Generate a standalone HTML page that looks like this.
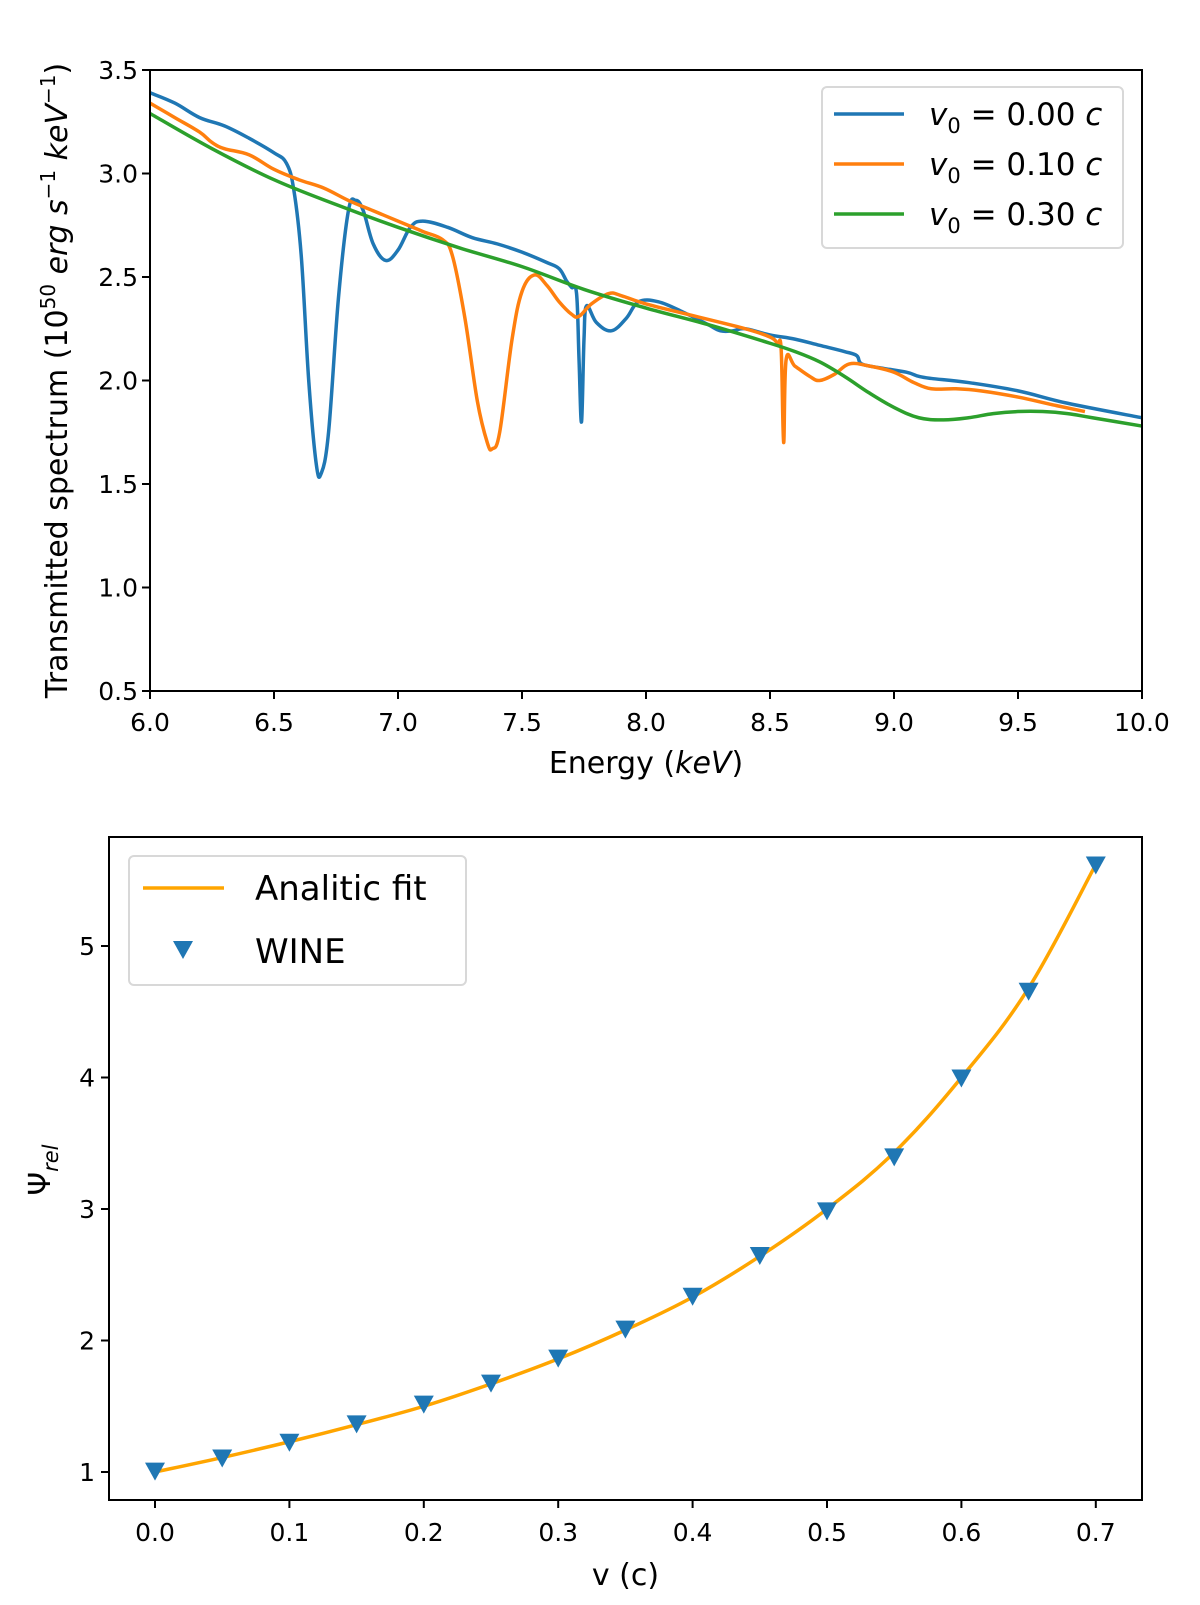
<!DOCTYPE html>
<html><head><meta charset="utf-8"><style>
body{margin:0;background:#fff}
svg{display:block;font-family:"DejaVu Sans","Liberation Sans",sans-serif}
</style></head><body>
<svg id="svg" width="1200" height="1605" viewBox="0 0 1200 1605" xmlns="http://www.w3.org/2000/svg">
<g id="top"></g>
<g id="bot"></g>
</svg>
<script>
// ---------- top chart data ----------
const blueE=[6.0,6.1,6.2,6.3,6.4,6.5,6.55,6.58,6.61,6.64,6.67,6.69,6.72,6.76,6.8,6.83,6.86,6.9,6.95,7.0,7.05,7.1,7.2,7.3,7.4,7.5,7.6,7.65,7.68,7.7,7.72,7.73,7.74,7.75,7.76,7.8,7.86,7.92,7.97,8.05,8.15,8.25,8.3,8.35,8.4,8.5,8.6,8.7,8.8,8.85,8.87,8.95,9.05,9.1,9.15,9.3,9.5,9.7,10.0];
const blueF=[3.39,3.34,3.27,3.23,3.17,3.10,3.05,2.92,2.6,2.0,1.6,1.55,1.75,2.4,2.82,2.87,2.82,2.66,2.58,2.63,2.74,2.77,2.74,2.69,2.66,2.62,2.57,2.54,2.48,2.45,2.42,2.1,1.8,2.2,2.36,2.28,2.24,2.3,2.38,2.38,2.33,2.27,2.24,2.24,2.25,2.22,2.2,2.17,2.14,2.12,2.08,2.06,2.04,2.02,2.01,1.99,1.95,1.89,1.82];
const orangeE=[6.0,6.1,6.2,6.25,6.3,6.4,6.5,6.6,6.7,6.8,6.9,7.0,7.1,7.18,7.22,7.27,7.32,7.36,7.38,7.41,7.46,7.5,7.55,7.6,7.65,7.7,7.73,7.78,7.85,7.9,8.0,8.2,8.4,8.5,8.53,8.545,8.555,8.565,8.6,8.66,8.7,8.76,8.82,8.9,9.0,9.08,9.15,9.25,9.35,9.5,9.65,9.77];
const orangeF=[3.34,3.27,3.2,3.15,3.12,3.09,3.02,2.97,2.93,2.87,2.82,2.77,2.72,2.68,2.6,2.3,1.9,1.70,1.67,1.75,2.2,2.43,2.51,2.46,2.38,2.32,2.31,2.37,2.42,2.41,2.37,2.31,2.25,2.21,2.18,2.15,1.7,2.1,2.07,2.02,2.0,2.03,2.08,2.07,2.04,1.99,1.96,1.96,1.95,1.92,1.88,1.85];
const greenE=[6.0,6.25,6.5,6.75,7.0,7.25,7.5,7.75,8.0,8.25,8.5,8.6,8.7,8.8,8.9,9.0,9.1,9.2,9.3,9.4,9.5,9.6,9.7,9.8,10.0];
const greenF=[3.29,3.12,2.97,2.85,2.74,2.64,2.55,2.44,2.35,2.27,2.18,2.14,2.09,2.02,1.94,1.87,1.82,1.81,1.82,1.84,1.85,1.85,1.84,1.82,1.78];
const topXTicks=[6.0,6.5,7.0,7.5,8.0,8.5,9.0,9.5,10.0];
const topYTicks=[0.5,1.0,1.5,2.0,2.5,3.0,3.5];
// ---------- bottom chart data ----------
const velocities=[0,0.05,0.1,0.15,0.2,0.25,0.3,0.35,0.4,0.45,0.5,0.55,0.6,0.65,0.7];
const wineValues=[1.01,1.11,1.23,1.37,1.52,1.68,1.87,2.09,2.34,2.65,2.99,3.40,4.0,4.66,5.62];
const fitValues=[1.0,1.11,1.23,1.36,1.50,1.67,1.86,2.08,2.33,2.64,3.0,3.43,4.0,4.68,5.62];
const botXTicks=[0.0,0.1,0.2,0.3,0.4,0.5,0.6,0.7];
const botYTicks=[1,2,3,4,5];

const NS="http://www.w3.org/2000/svg";
function mk(parent,tag,attrs,text){const e=document.createElementNS(NS,tag);for(const k in attrs)e.setAttribute(k,attrs[k]);if(text!==undefined)e.textContent=text;parent.appendChild(e);return e;}
function smooth(pts){let d=`M${pts[0][0]},${pts[0][1]}`;for(let i=0;i<pts.length-1;i++){const p0=pts[Math.max(0,i-1)],p1=pts[i],p2=pts[i+1],p3=pts[Math.min(pts.length-1,i+2)];const t=0.18;d+=` C${p1[0]+(p2[0]-p0[0])*t},${p1[1]+(p2[1]-p0[1])*t} ${p2[0]-(p3[0]-p1[0])*t},${p2[1]-(p3[1]-p1[1])*t} ${p2[0]},${p2[1]}`;}return d;}

// ---- top chart ----
const T=document.getElementById('top');
const tL=150,tR=1142,tT=70,tB=691;
const tx=e=>tL+(e-6)/4*(tR-tL), ty=v=>tB-(v-0.5)/3*(tB-tT);
function series(E,F,color,name){const p=mk(T,'path',{d:smooth(E.map((e,i)=>[tx(e),ty(F[i])])),fill:'none',stroke:color,'stroke-width':3.5,'stroke-linejoin':'round'});

}
const clipT=mk(T,'clipPath',{id:'ct'});mk(clipT,'rect',{x:tL,y:tT,width:tR-tL,height:tB-tT});
series(blueE,blueF,'#1f77b4','line-v0-000');
series(orangeE,orangeF,'#ff7f0e','line-v0-010');
series(greenE,greenF,'#2ca02c','line-v0-030');
const tf=mk(T,'rect',{x:tL,y:tT,width:tR-tL,height:tB-tT,fill:'none',stroke:'#000','stroke-width':2});


topXTicks.forEach(v=>{const x=tx(v);mk(T,'line',{x1:x,x2:x,y1:tB,y2:tB+8,stroke:'#000','stroke-width':2});
const t=mk(T,'text',{x:x,y:tB+40,'text-anchor':'middle','font-size':25},v.toFixed(1));

});
topYTicks.forEach(v=>{const y=ty(v);mk(T,'line',{x1:tL-8,x2:tL,y1:y,y2:y,stroke:'#000','stroke-width':2});
const t=mk(T,'text',{x:tL-12,y:y+9,'text-anchor':'end','font-size':25},v.toFixed(1));

});
const xl=mk(T,'text',{x:(tL+tR)/2,y:773,'text-anchor':'middle','font-size':30});
xl.innerHTML='Energy (<tspan font-style="italic">keV</tspan>)';


const yl=mk(T,'text',{x:0,y:0,'text-anchor':'middle','font-size':30,transform:`translate(67,${(tT+tB)/2}) rotate(-90)`});
yl.innerHTML='Transmitted spectrum (10<tspan font-size="20" dy="-12">50</tspan><tspan dy="12"> </tspan><tspan font-style="italic">erg s</tspan><tspan font-size="20" dy="-12">−1</tspan><tspan dy="12" font-style="italic"> keV</tspan><tspan font-size="20" dy="-12">−1</tspan><tspan dy="12">)</tspan>';


const lg=mk(T,'g',{});


mk(lg,'rect',{x:822,y:87,width:301,height:161,rx:5,fill:'#fff',stroke:'#d8d8d8','stroke-width':2});
[['#1f77b4','0.00'],['#ff7f0e','0.10'],['#2ca02c','0.30']].forEach((d,i)=>{const y=114+i*50;
const g=mk(lg,'g',{});


mk(g,'line',{x1:834,x2:904,y1:y,y2:y,stroke:d[0],'stroke-width':3.5});
const t=mk(g,'text',{x:929,y:y+11,'font-size':31});
t.innerHTML=`<tspan font-style="italic">v</tspan><tspan font-size="21" dy="8">0</tspan><tspan dy="-8"> = ${d[1]} </tspan><tspan font-style="italic">c</tspan>`;});

// ---- bottom chart ----
const B=document.getElementById('bot');
const bL=109,bR=1142,bT=837,bB=1500;
const bx=v=>155+v/0.1*134.4, by=v=>1472-(v-1)*131.5;
const fit=mk(B,'path',{d:smooth(velocities.map((v,i)=>[bx(v),by(fitValues[i])])),fill:'none',stroke:'#ffa500','stroke-width':3.5});


velocities.forEach((v,i)=>{const x=bx(v),y=by(wineValues[i]);
const m=mk(B,'path',{d:`M${x-10},${y-8} L${x+10},${y-8} L${x},${y+10} Z`,fill:'#1f77b4'});

});
const bf=mk(B,'rect',{x:bL,y:bT,width:bR-bL,height:bB-bT,fill:'none',stroke:'#000','stroke-width':2});


botXTicks.forEach(v=>{const x=bx(v);mk(B,'line',{x1:x,x2:x,y1:bB,y2:bB+8,stroke:'#000','stroke-width':2});
const t=mk(B,'text',{x:x,y:bB+41,'text-anchor':'middle','font-size':25},v.toFixed(1));

});
botYTicks.forEach(v=>{const y=by(v);mk(B,'line',{x1:bL-8,x2:bL,y1:y,y2:y,stroke:'#000','stroke-width':2});
const t=mk(B,'text',{x:bL-14,y:y+9,'text-anchor':'end','font-size':25},String(v));

});
const bxl=mk(B,'text',{x:(bL+bR)/2,y:1585,'text-anchor':'middle','font-size':30},'v (c)');


const byl=mk(B,'text',{x:0,y:0,'text-anchor':'middle','font-size':30,transform:`translate(50,1170) rotate(-90)`});
byl.innerHTML='Ψ<tspan font-size="21" font-style="italic" dy="8">rel</tspan>';


const bl=mk(B,'g',{});


mk(bl,'rect',{x:129,y:856,width:337,height:129,rx:5,fill:'#fff',stroke:'#d8d8d8','stroke-width':2});
const e1=mk(bl,'g',{});


mk(e1,'line',{x1:143,x2:224,y1:888,y2:888,stroke:'#ffa500','stroke-width':3.5});
mk(e1,'text',{x:255,y:900,'font-size':34},'Analitic fit');
const e2=mk(bl,'g',{});


mk(e2,'path',{d:'M173,941 L193,941 L183,959 Z',fill:'#1f77b4'});
mk(e2,'text',{x:255,y:963,'font-size':34},'WINE');
</script>
</body></html>
